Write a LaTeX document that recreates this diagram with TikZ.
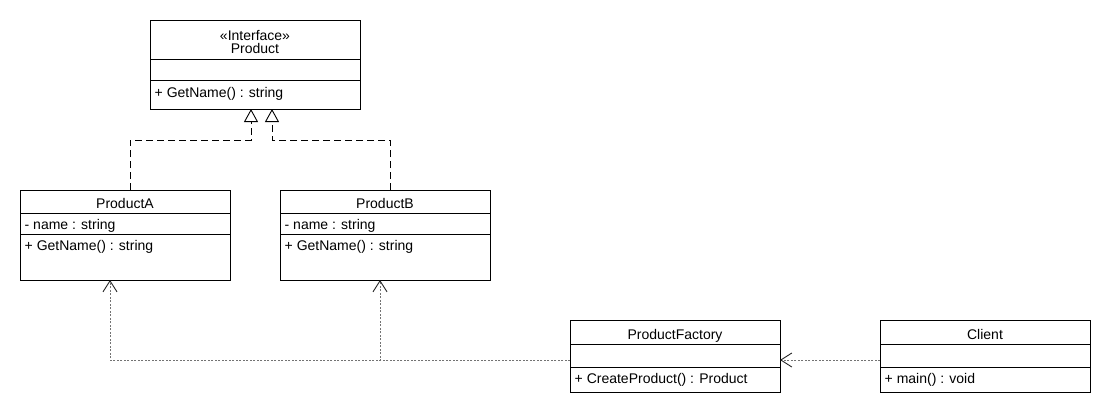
\documentclass[tikz,border=0pt]{standalone}
\usepackage{fontspec}
\setmainfont{Liberation Sans}
\usetikzlibrary{arrows.meta}
\begin{document}
\begin{tikzpicture}[x=1pt,y=-1pt,
  font=\fontsize{14}{16}\selectfont,
  classbox/.style={draw=black, line width=1pt, rectangle, anchor=north west,
    inner sep=0pt, outer sep=0pt, minimum width=210pt},
  ctitle/.style={anchor=base, inner sep=0pt},
  member/.style={anchor=base west, inner sep=0pt},
  sep/.style={draw=black, line width=1pt},
  realize/.style={draw=black, line width=0.9pt, dash pattern=on 7pt off 4pt,
    -{Triangle[open, width=14pt, length=13pt, line width=0.9pt]}},
  depend/.style={draw=black!55, line width=0.8pt, dash pattern=on 2pt off 1.5pt,
    -{Straight Barb[width=14pt, length=11pt, line width=0.9pt, color=black!85]}}
]
\fill[white] (0,0) rectangle (1110,410);
\useasboundingbox (0,0) rectangle (1110,410);

% Product interface
\node[classbox, minimum height=89pt] (product) at (150,20) {};
\draw[sep] (product.west |- 0,59) -- (product.east |- 0,59);
\draw[sep] (product.west |- 0,80) -- (product.east |- 0,80);
\node[ctitle] (productst) at (255,40) {«Interface»};
\node[ctitle] (productname) at (255,53.5) {Product};
\node[member] (productop) at (154.5,97) {+ GetName() : string};

% ProductA
\node[classbox, minimum height=90pt] (pa) at (20,190) {};
\draw[sep] (pa.west |- 0,213) -- (pa.east |- 0,213);
\draw[sep] (pa.west |- 0,234) -- (pa.east |- 0,234);
\node[ctitle] (paname) at (125,208.5) {ProductA};
\node[member] (paattr) at (24.5,229) {- name : string};
\node[member] (paop) at (24.5,250) {+ GetName() : string};

% ProductB
\node[classbox, minimum height=90pt] (pb) at (280,190) {};
\draw[sep] (pb.west |- 0,213) -- (pb.east |- 0,213);
\draw[sep] (pb.west |- 0,234) -- (pb.east |- 0,234);
\node[ctitle] (pbname) at (385,208.5) {ProductB};
\node[member] (pbattr) at (284.5,229) {- name : string};
\node[member] (pbop) at (284.5,250) {+ GetName() : string};

% ProductFactory
\node[classbox, minimum height=72pt] (pf) at (570,320) {};
\draw[sep] (pf.west |- 0,344) -- (pf.east |- 0,344);
\draw[sep] (pf.west |- 0,367) -- (pf.east |- 0,367);
\node[ctitle] (pfname) at (675,339) {ProductFactory};
\node[member] (pfop) at (574.5,383) {+ CreateProduct() : Product};

% Client
\node[classbox, minimum height=72pt] (cl) at (880,320) {};
\draw[sep] (cl.west |- 0,344) -- (cl.east |- 0,344);
\draw[sep] (cl.west |- 0,367) -- (cl.east |- 0,367);
\node[ctitle] (clname) at (985,339) {Client};
\node[member] (clop) at (884.5,383) {+ main() : void};

% realizations of the interface
\draw[realize] ([xshift=5pt]pa.north) -- ++(0,-50) -| ([xshift=-4pt]product.south);
\draw[realize] ([xshift=5pt]pb.north) -- ++(0,-50) -| ([xshift=17pt]product.south);

% dependencies
\draw[depend] ([yshift=-4pt]pf.west) -| ([xshift=-15pt]pa.south);
\draw[depend] ([yshift=-4pt]pf.west) -| ([xshift=-5pt]pb.south);
\draw[depend] ([yshift=-4pt]cl.west) -- ([yshift=-4pt]pf.east);
\end{tikzpicture}
\end{document}
